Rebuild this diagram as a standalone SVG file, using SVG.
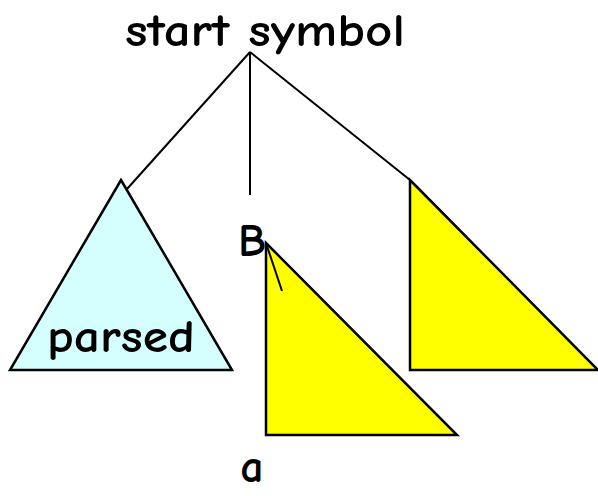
<svg xmlns="http://www.w3.org/2000/svg" width="598" height="496" viewBox="0 0 598 496">
<style>
.t{font-family:"Comic Neue","Liberation Sans",sans-serif;font-size:46px;font-weight:700;fill:#000}
.tri{stroke:#000;stroke-width:2.5;stroke-linejoin:miter}
.ln{stroke:#000;stroke-width:2;fill:none}
</style>
<rect width="598" height="496" fill="#fff"/>
<g id="start"><text class="t" x="265" y="46" text-anchor="middle" textLength="280" lengthAdjust="spacingAndGlyphs">start symbol</text></g>
<g id="parsed"><polygon class="tri" points="121,180 232,370 10,370" fill="#d5ffff"/><text class="t" x="121" y="352" text-anchor="middle" textLength="148" lengthAdjust="spacingAndGlyphs">parsed</text></g>
<g id="right"><polygon class="tri" points="410,180 598,370 410,370" fill="#ffff00"/></g>
<g id="B"><text class="t" x="252" y="256" text-anchor="middle">B</text></g>
<g id="Btri"><polygon class="tri" points="266,243 457,435 266,435" fill="#ffff00"/></g>
<g id="a"><text class="t" x="252" y="482" text-anchor="middle">a</text></g>
<g id="connectors">
<line class="ln" x1="250" y1="52" x2="127" y2="189"/>
<line class="ln" x1="250" y1="52" x2="250" y2="195"/>
<line class="ln" x1="250" y1="52" x2="410" y2="180"/>
<line class="ln" x1="266" y1="243" x2="282" y2="291"/>
</g>
</svg>
